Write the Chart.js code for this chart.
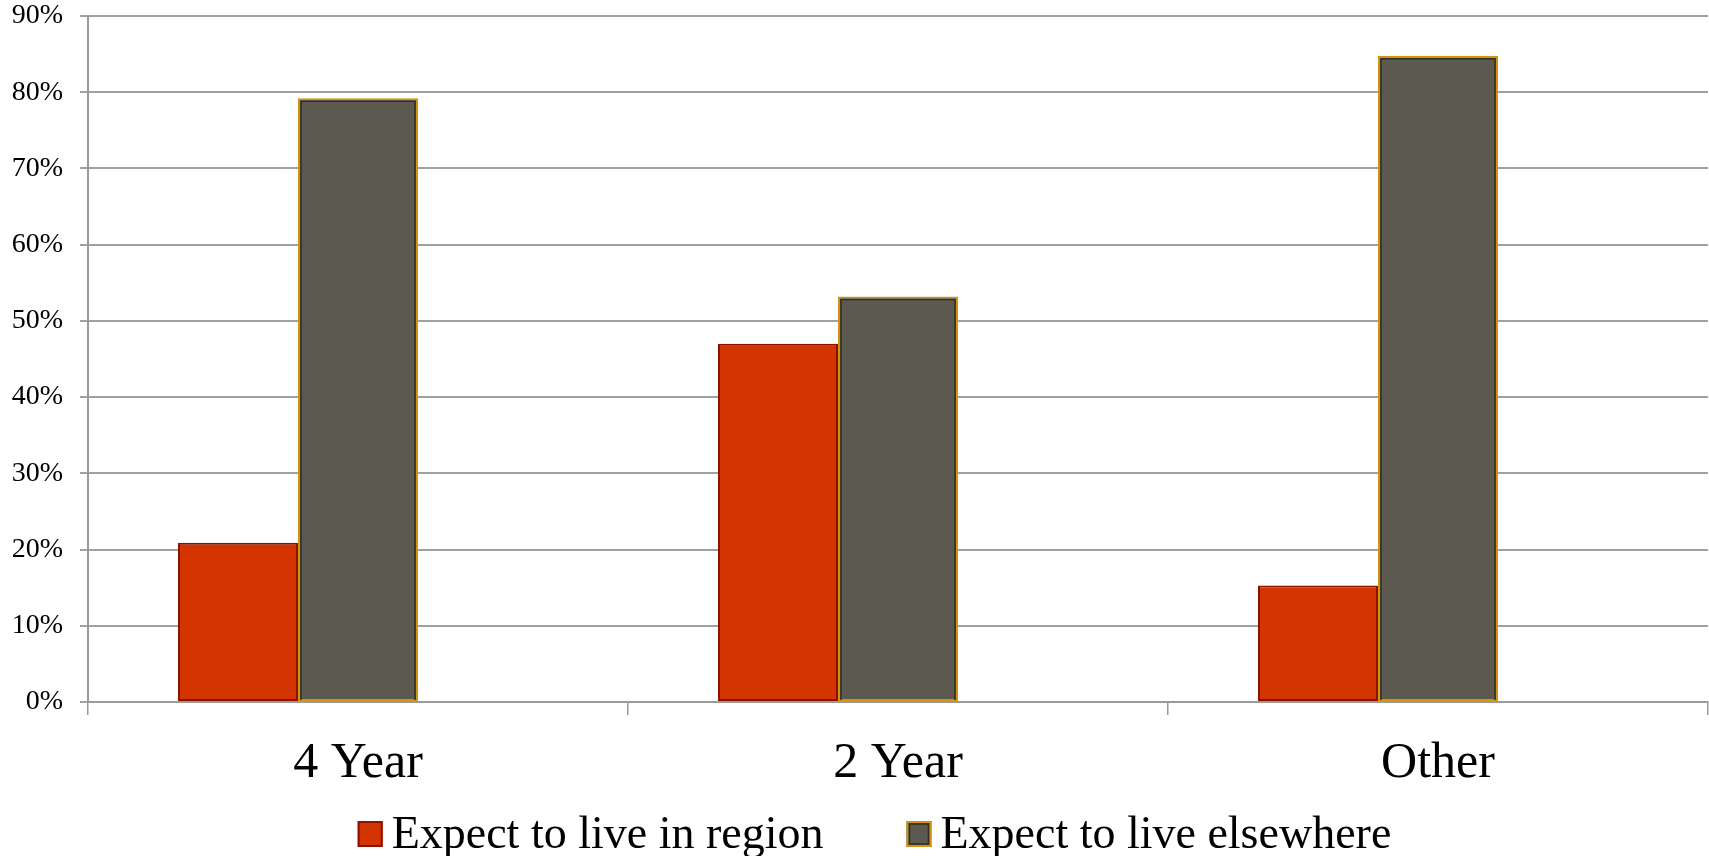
<!DOCTYPE html>
<html>
<head>
<meta charset="utf-8">
<script src="https://cdn.jsdelivr.net/npm/chart.js@4/dist/chart.umd.min.js"></script>
<style>
  html, body { margin: 0; padding: 0; background: #ffffff; }
  #wrap { width: 1709px; height: 856px; }
</style>
</head>
<body>
<div id="wrap"><canvas id="chart" width="1709" height="856"></canvas></div>
<script>
// Institution type on the x axis
const categories = ['4 Year', '2 Year', 'Other'];
// Share of students (%) by where they expect to live
const expectInRegion = [20.9, 47, 15.3];
const expectElsewhere = [79.2, 53.2, 84.8];
// Third slot in each group is left empty
const emptySlot = [null, null, null];
// Value axis ticks (%)
const yTickValues = [0, 10, 20, 30, 40, 50, 60, 70, 80, 90];

const serif = "'Liberation Serif', 'DejaVu Serif', serif";

const seriesStyle = [
  { fill: '#d43500', edge: '#8c1200', inner: null },
  { fill: '#5c5a4e', edge: '#d4930c', inner: '#2f2e28' }
];

// Dark inset line just inside the orange edge of the grey bars
const insetEdge = {
  id: 'insetEdge',
  afterDatasetsDraw(chart) {
    const ctx = chart.ctx;
    chart.data.datasets.forEach((ds, i) => {
      const st = seriesStyle[i];
      if (!st || !st.inner) return;
      chart.getDatasetMeta(i).data.forEach(bar => {
        const p = bar.getProps(['x', 'y', 'base', 'width'], true);
        const l = p.x - p.width / 2 + 3, r = p.x + p.width / 2 - 3;
        const t = p.y + 3, b = p.base - 1;
        ctx.save();
        ctx.strokeStyle = st.inner;
        ctx.lineWidth = 1.5;
        ctx.beginPath();
        ctx.moveTo(l, b); ctx.lineTo(l, t); ctx.lineTo(r, t); ctx.lineTo(r, b);
        ctx.stroke();
        ctx.restore();
      });
    });
  }
};

// Legend row under the category labels
const legendRow = {
  id: 'legendRow',
  afterDraw(chart) {
    const ctx = chart.ctx;
    const items = chart.data.datasets.filter(ds => ds.label);
    const fontSize = 46, box = 25, textGap = 9, itemGap = 83;
    const cy = 834;
    ctx.save();
    ctx.font = fontSize + 'px ' + serif;
    const widths = items.map(ds => ctx.measureText(ds.label).width);
    const total = widths.reduce((a, w) => a + box + textGap + w, 0) + itemGap * (items.length - 1);
    let x = chart.width / 2 + 20 - total / 2;
    items.forEach((ds, i) => {
      const st = seriesStyle[i];
      ctx.fillStyle = st.fill;
      ctx.fillRect(x, cy - 13, box, 26);
      ctx.strokeStyle = st.edge;
      ctx.lineWidth = 2;
      ctx.strokeRect(x + 1, cy - 12, box - 2, 24);
      if (st.inner) {
        ctx.strokeStyle = st.inner;
        ctx.lineWidth = 1.5;
        ctx.strokeRect(x + 3, cy - 10, box - 6, 20);
      }
      ctx.fillStyle = '#000000';
      ctx.textBaseline = 'middle';
      ctx.textAlign = 'left';
      ctx.fillText(ds.label, x + box + textGap, cy + 2);
      x += box + textGap + widths[i] + itemGap;
    });
    ctx.restore();
  }
};

new Chart(document.getElementById('chart'), {
  type: 'bar',
  data: {
    labels: categories,
    datasets: [
      {
        label: 'Expect to live in region',
        data: expectInRegion,
        backgroundColor: seriesStyle[0].fill,
        borderColor: seriesStyle[0].edge,
        borderWidth: 2,
        borderSkipped: false
      },
      {
        label: 'Expect to live elsewhere',
        data: expectElsewhere,
        backgroundColor: seriesStyle[1].fill,
        borderColor: seriesStyle[1].edge,
        borderWidth: 2,
        borderSkipped: false
      },
      {
        label: '',
        data: emptySlot,
        backgroundColor: 'rgba(0,0,0,0)'
      }
    ]
  },
  options: {
    responsive: false,
    animation: false,
    events: [],
    layout: { padding: { top: 16, right: 1, left: 0, bottom: 66 } },
    datasets: {
      bar: { categoryPercentage: 2 / 3, barPercentage: 1 }
    },
    scales: {
      x: {
        offset: true,
        grid: {
          offset: true,
          drawOnChartArea: false,
          drawTicks: true,
          tickLength: 13,
          color: '#9a9a9a',
          lineWidth: 1.5
        },
        border: { display: true, color: '#9a9a9a', width: 2 },
        ticks: {
          color: '#000000',
          padding: 19,
          font: { family: serif, size: 50 }
        },
        afterFit(scale) { scale.height = 88; }
      },
      y: {
        min: 0,
        max: 90,
        afterBuildTicks(scale) {
          scale.ticks = yTickValues.map(v => ({ value: v }));
        },
        grid: {
          color: '#a0a0a0',
          lineWidth: 2,
          tickLength: 8,
          drawTicks: true
        },
        border: { display: true, color: '#9a9a9a', width: 2 },
        ticks: {
          color: '#000000',
          padding: 17,
          font: { family: serif, size: 28 },
          callback: v => v + '%'
        },
        afterFit(scale) {
          scale.width = 88;
          scale.paddingTop = 0;
          scale.paddingBottom = 0;
        }
      }
    },
    plugins: {
      tooltip: { enabled: false },
      legend: { display: false }
    }
  },
  plugins: [insetEdge, legendRow]
});
</script>
</body>
</html>
